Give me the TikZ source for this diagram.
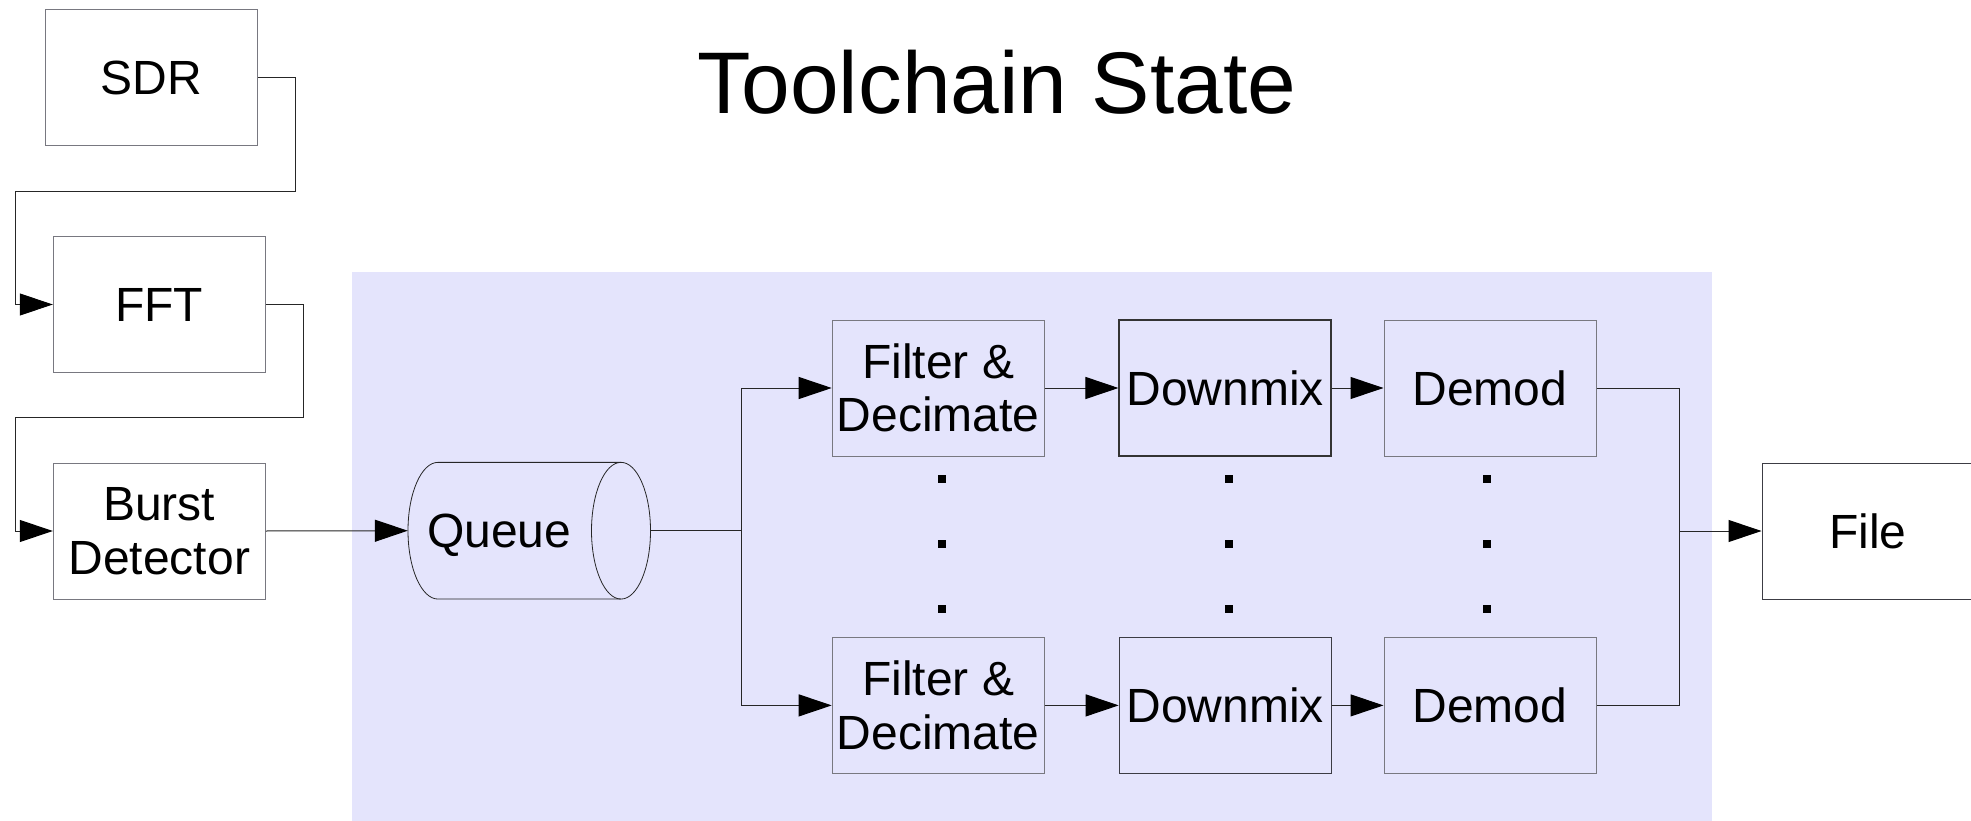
\documentclass[tikz,border=0pt]{standalone}
\usepackage{fontspec}
\setmainfont{Liberation Sans}
\usetikzlibrary{arrows.meta}
\definecolor{bgc}{RGB}{228,228,252}
\definecolor{lightframe}{RGB}{120,120,128}
\definecolor{darkframe}{RGB}{60,60,68}
\tikzset{
  blockbox/.style={draw=lightframe, line width=1pt, minimum width=212pt, minimum height=136pt,
    inner sep=0pt, align=center, font=\fontsize{48}{53.5}\selectfont},
  darkbox/.style={blockbox, draw=darkframe},
  conn/.style={draw=black!85, line width=1pt},
  arr/.style={-{Triangle[length=33pt,width=22pt,black]}},
  dotmark/.style={fill=black, minimum size=8pt, inner sep=0pt},
  txt/.style={inner sep=0pt, font=\fontsize{48}{53.5}\selectfont}
}
\begin{document}
\begin{tikzpicture}[x=1pt,y=-1pt]
\useasboundingbox (0,0) rectangle (1971,821);
\fill[white] (0,0) rectangle (1971,821);
% background panel
\fill[bgc] (352,272) rectangle (1712,821);

% title
\node[inner sep=0pt, anchor=base, font=\fontsize{87.5}{100}\selectfont] (title) at (997,113.5) {Toolchain State};

% left column
\node[blockbox] (sdr) at (151.5,77.7) {SDR};
\node[blockbox] (fft) at (159.3,304.5) {FFT};
\node[blockbox] (burst) at (159.3,531) {Burst\\Detector};

% queue (cylinder)
\node[minimum width=242.4pt, minimum height=136.7pt, inner sep=0pt] (queue) at (529.2,530.7) {};
\draw[draw=black!85, line width=0.8pt] (621,462.35) -- (438,462.35)
  arc[start angle=-90, end angle=-270, x radius=30, y radius=68.35] -- (621,599.05);
\draw[draw=black!85, line width=0.8pt] (621,530.7) ellipse [x radius=29.5, y radius=68.35];
\node[txt, anchor=base] (qlabel) at (499.2,547.8) {Queue};

% parallel chains
\node[blockbox] (f1) at (938.2,388) {Filter \&\\Decimate};
\node[blockbox, draw=black!80, line width=1.5pt] (d1) at (1225.2,388) {Downmix};
\node[blockbox] (m1) at (1490,388) {Demod};
\node[blockbox] (f2) at (938.2,705.4) {Filter \&\\Decimate};
\node[darkbox] (d2) at (1225.2,705.4) {Downmix};
\node[blockbox] (m2) at (1490,705.4) {Demod};

% ellipsis dots
\foreach \yy [count=\i] in {479,543.6,609.3}{
  \node[dotmark] (fdot\i) at (942,\yy) {};
  \node[dotmark] (ddot\i) at (1228.8,\yy) {};
  \node[dotmark] (mdot\i) at (1487.3,\yy) {};
}

% output file
\node[darkbox] (file) at (1868,531) {File};

% connectors
\draw[conn,arr] (sdr.east) -- (295,77.7) -- (295,191.4) -- (15.3,191.4) |- (fft.west);
\draw[conn,arr] (fft.east) -- (303,304.5) -- (303,417.6) -- (15.3,417.6) |- (burst.west);
\draw[conn,arr] (burst.east) -- (queue.west);
\draw[conn] (queue.east) -- (741.7,530.7) coordinate (split);
\draw[conn,arr] (split) |- (f1.west);
\draw[conn,arr] (split) |- (f2.west);
\draw[conn,arr] (f1) -- (d1);
\draw[conn,arr] (d1) -- (m1);
\draw[conn,arr] (f2) -- (d2);
\draw[conn,arr] (d2) -- (m2);
\coordinate (merge) at (1679.3,531);
\draw[conn] (m1.east) -| (merge);
\draw[conn] (m2.east) -| (merge);
\draw[conn,arr] (merge) -- (file.west);
\end{tikzpicture}
\end{document}
